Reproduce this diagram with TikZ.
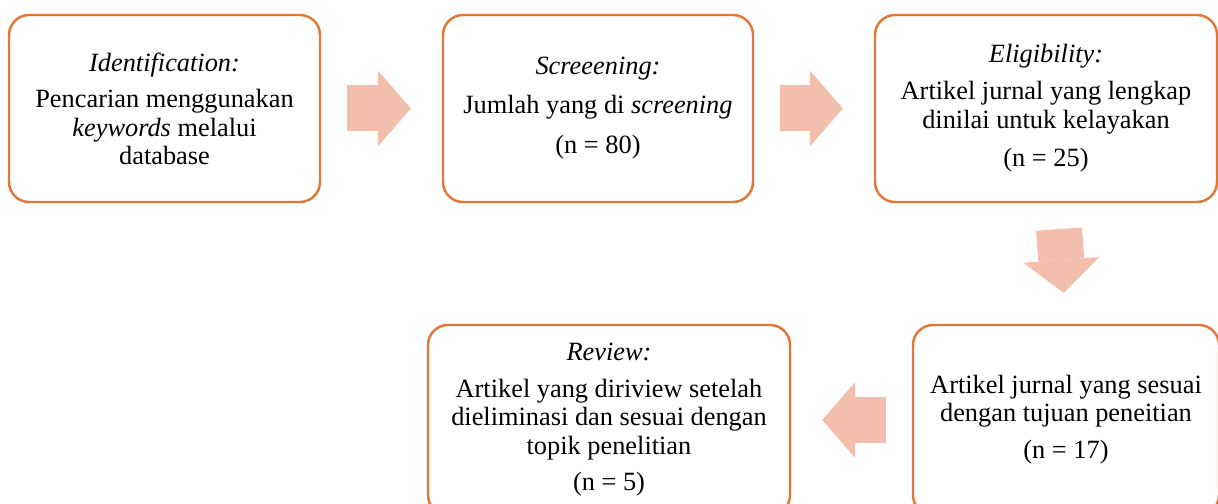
\documentclass[tikz,border=0pt]{standalone}
\usepackage{fontspec}
\setmainfont{Liberation Serif}
\usetikzlibrary{positioning,arrows.meta}
\definecolor{oranye}{HTML}{E0783A}
\definecolor{salem}{HTML}{F3BEAC}

\begin{document}
\begin{tikzpicture}[on grid,node distance=8.67cm,
tahap/.style={draw=oranye,line width=1.4pt,rounded corners=0.4cm,
              minimum width=6.22cm,minimum height=3.74cm,align=center,
              font=\fontsize{15}{16}\selectfont}]

\tikzset{panah/.style={-{Triangle[width=1.52cm,length=0.66cm,line width=0pt]},salem,line width=0.92cm,shorten <=0.52cm,shorten >=0.62cm}}

\useasboundingbox (0,0) rectangle (24.36,10.08);
\node[tahap] (A) at (3.29,7.91) {\textit{Identification:}\\[5pt] Pencarian menggunakan\\ \textit{keywords} melalui\\ database};
\node[tahap] (B) [right=of A,minimum width=6.2cm] {\textit{Screeening:}\\[6pt] Jumlah yang di \textit{screening}\\[7pt] (n = 80)};
\node[tahap] (C) [right=8.96cm of B,minimum width=6.84cm] {\textit{Eligibility:}\\[5pt] Artikel jurnal yang lengkap\\ dinilai untuk kelayakan\\[6pt] (n = 25)};
\node[tahap] (D) [below=6.23cm of C,xshift=0.4cm,minimum width=6.12cm,minimum height=3.8cm] {Artikel jurnal yang sesuai\\ dengan tujuan peneitian\\[5pt] (n = 17)};
\node[tahap] (E) [left=9.14cm of D,minimum width=7.24cm,minimum height=3.8cm] {\textit{Review:}\\[5pt] Artikel yang diriview setelah\\ dieliminasi dan sesuai dengan\\ topik penelitian\\[5pt] (n = 5)};
\draw[panah] (A.east) to (B.west);
\draw[panah] (B.east) to (C.west);
\draw[panah] ([xshift=0.22cm]C.south) to (D.north);
\draw[panah] (D.west) to (E.east);
\end{tikzpicture}
\end{document}
